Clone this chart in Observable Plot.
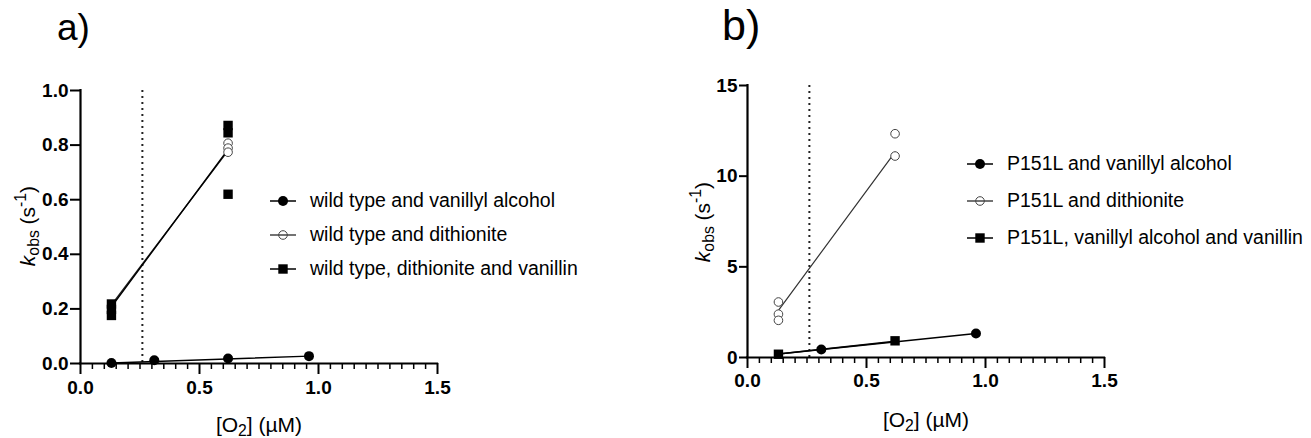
<!DOCTYPE html>
<html><head><meta charset="utf-8">
<script src="https://cdn.jsdelivr.net/npm/d3@7"></script>
<script src="https://cdn.jsdelivr.net/npm/@observablehq/plot@0.6"></script>
<style>
body{margin:0;background:#fff;font-family:"Liberation Sans",Arial,sans-serif;}
#root{position:relative;width:1311px;height:438px;overflow:hidden;background:#fff;}
.abs{position:absolute;white-space:nowrap;color:#000;line-height:1;}
.ttl{font-family:"Liberation Sans",Arial,sans-serif;}
.ylab{font-size:21px;transform:translate(-50%,-50%) rotate(-90deg);}
.xlab{font-size:21px;transform:translate(-50%,-50%);}
.sub{font-size:0.75em;vertical-align:-0.3em;line-height:0;}
.sup{font-size:0.75em;vertical-align:0.55em;line-height:0;}
.leg{font-size:19.5px;display:flex;align-items:center;height:24px;}
.leg svg{display:block;margin-right:14px;}
svg text{font-family:"Liberation Sans",Arial,sans-serif;}
svg g[aria-label$="tick label"], svg g[aria-label$="tick label"] text{font-size:19px !important;font-weight:bold !important;}
</style></head><body><div id="root"></div>
<script>
// ---------- Panel a data ----------
const aVanAlcX = [0.13, 0.31, 0.62, 0.96];
const aVanAlcY = [0.002, 0.012, 0.018, 0.027];
const aDithX = [0.62, 0.62, 0.62];
const aDithY = [0.807, 0.789, 0.774];
const aDithVanX = [0.13, 0.13, 0.13, 0.62, 0.62, 0.62];
const aDithVanY = [0.176, 0.198, 0.218, 0.620, 0.845, 0.872];
// fitted lines
const aFitVanAlcX = [0.13, 0.96], aFitVanAlcY = [0.002, 0.027];
const aFitDithX = [0.13, 0.62], aFitDithY = [0.215, 0.780];
const aFitDithVanX = [0.13, 0.62], aFitDithVanY = [0.208, 0.784];
const aLegend = ["wild type and vanillyl alcohol", "wild type and dithionite", "wild type, dithionite and vanillin"];
const aYTicks = [0, 0.2, 0.4, 0.6, 0.8, 1.0];

// ---------- Panel b data ----------
const bVanAlcX = [0.31, 0.96];
const bVanAlcY = [0.44, 1.32];
const bDithX = [0.13, 0.13, 0.13, 0.62, 0.62];
const bDithY = [3.06, 2.39, 2.05, 12.34, 11.11];
const bVanAlcVanX = [0.13, 0.62];
const bVanAlcVanY = [0.18, 0.92];
const bFitVanAlcX = [0.13, 0.96], bFitVanAlcY = [0.19, 1.32];
const bFitDithX = [0.13, 0.62], bFitDithY = [2.6, 11.33];
const bFitVanAlcVanX = [0.13, 0.62], bFitVanAlcVanY = [0.19, 0.90];
const bLegend = ["P151L and vanillyl alcohol", "P151L and dithionite", "P151L, vanillyl alcohol and vanillin"];
const bYTicks = [0, 5, 10, 15];

// ---------- shared ----------
const xMajorTicks = [0, 0.5, 1.0, 1.5];
const xMinorTicks = d3.range(0, 1.5001, 0.05).filter(v => Math.abs(v / 0.5 - Math.round(v / 0.5)) > 1e-6);
const o2Line = [0.26];

const pts = (xs, ys) => xs.map((x, i) => ({x, y: ys[i]}));
const root = document.getElementById("root");

function panel({left, width, mL, mT, mB, yDomain, yTicks, yFmt, yTickSize, xPad, series}) {
  const marks = [
    Plot.ruleX(o2Line, {strokeDasharray: "2,4", strokeWidth: 2, stroke: "#222"}),
  ];
  for (const s of series) {
    marks.push(Plot.line(pts(s.fx, s.fy), {x: "x", y: "y", stroke: s.lineColor, strokeWidth: s.lineWidth}));
  }
  for (const s of series) {
    marks.push(Plot.dot(pts(s.x, s.y), {x: "x", y: "y", symbol: s.symbol, r: s.r, fill: s.fill, stroke: s.stroke, strokeWidth: s.sw}));
  }
  marks.push(
    Plot.axisY({ticks: yTicks, tickSize: yTickSize, tickPadding: 2, tickFormat: yFmt, fontSize: 19, fontWeight: "bold", strokeWidth: 2, label: null}),
    Plot.axisX({ticks: xMajorTicks, tickSize: 11, tickPadding: xPad, tickFormat: d3.format(".1f"), fontSize: 19, fontWeight: "bold", strokeWidth: 2, label: null}),
    Plot.axisX({ticks: xMinorTicks, tickSize: 6, tickFormat: () => "", strokeWidth: 1.5, label: null}),
    Plot.ruleX([0], {strokeWidth: 2.2, strokeLinecap: "square"}),
    Plot.ruleY([0], {strokeWidth: 2.2, strokeLinecap: "square"})
  );
  const svg = Plot.plot({
    width, height: 438, marginLeft: mL, marginRight: 23, marginTop: mT, marginBottom: mB,
    x: {domain: [0, 1.5]}, y: {domain: yDomain},
    style: {fontFamily: "Liberation Sans, Arial, sans-serif", fontSize: "19px", color: "black", background: "transparent", overflow: "visible"},
    marks
  });
  svg.style.position = "absolute";
  svg.style.left = left + "px";
  svg.style.top = "0px";
  root.appendChild(svg);
}

const filledCircle = {symbol: "circle", r: 5, fill: "black", stroke: "none", sw: 0};
const openCircle = {symbol: "circle", r: 4.3, fill: "white", stroke: "#444", sw: 1};
const filledSquare = {symbol: "square", r: 5.3, fill: "black", stroke: "none", sw: 0};

panel({
  left: 0, width: 460, mL: 80, mT: 90, mB: 75, yDomain: [0, 1], yTicks: aYTicks, yFmt: d3.format(".1f"), yTickSize: 10, xPad: 6,
  series: [
    {...filledCircle, x: aVanAlcX, y: aVanAlcY, fx: aFitVanAlcX, fy: aFitVanAlcY, lineColor: "black", lineWidth: 1.4},
    {...openCircle, x: aDithX, y: aDithY, fx: aFitDithX, fy: aFitDithY, lineColor: "#222", lineWidth: 1.3},
    {...filledSquare, x: aDithVanX, y: aDithVanY, fx: aFitDithVanX, fy: aFitDithVanY, lineColor: "black", lineWidth: 1.4}
  ]
});
panel({
  left: 680, width: 447, mL: 67, mT: 85, mB: 81, yDomain: [0, 15], yTicks: bYTicks, yFmt: d3.format("d"), yTickSize: 8, xPad: 5,
  series: [
    {...filledCircle, x: bVanAlcX, y: bVanAlcY, fx: bFitVanAlcX, fy: bFitVanAlcY, lineColor: "black", lineWidth: 1.4},
    {...openCircle, x: bDithX, y: bDithY, fx: bFitDithX, fy: bFitDithY, lineColor: "#333", lineWidth: 1.2},
    {...filledSquare, x: bVanAlcVanX, y: bVanAlcVanY, fx: bFitVanAlcVanX, fy: bFitVanAlcVanY, lineColor: "black", lineWidth: 1.4}
  ]
});

// ---------- HTML text: titles, axis titles, legends ----------
function addDiv(cls, html, css) {
  const d = document.createElement("div");
  d.className = "abs " + cls;
  d.innerHTML = html;
  Object.assign(d.style, css);
  root.appendChild(d);
  return d;
}
addDiv("ttl", "a)", {left: "57px", top: "9px", fontSize: "37px"});
addDiv("ttl", "b)", {left: "722px", top: "4px", fontSize: "43px"});

const yTitle = '<i>k</i><span class="sub">obs</span> (s<span class="sup">-1</span>)';
const xTitle = '[O<span class="sub">2</span>] (\u00b5M)';
addDiv("ylab", yTitle, {left: "27px", top: "226px"});
addDiv("ylab", yTitle, {left: "702px", top: "222px"});
addDiv("xlab", xTitle, {left: "259px", top: "424px"});
addDiv("xlab", xTitle, {left: "926px", top: "419px"});

function swatch(kind) {
  let m;
  if (kind === 0) m = '<circle cx="13" cy="7" r="5" fill="black"/>';
  else if (kind === 1) m = '<circle cx="13" cy="7" r="4.3" fill="none" stroke="#444" stroke-width="1"/>';
  else m = '<rect x="8.3" y="2.3" width="9.4" height="9.4" fill="black"/>';
  const lineColor = kind === 1 ? "#444" : "black";
  return `<svg width="26" height="14"><line x1="0" y1="7" x2="26" y2="7" stroke="${lineColor}" stroke-width="1.5"/>${m}</svg>`;
}
function legend(labels, left, rows) {
  labels.forEach((lab, i) => {
    addDiv("leg", swatch(i) + `<span>${lab}</span>`, {left: left + "px", top: (rows[i] - 12) + "px"});
  });
}
legend(aLegend, 270, [201, 235, 269]);
legend(bLegend, 967, [164, 201, 238]);
</script>
</body></html>
